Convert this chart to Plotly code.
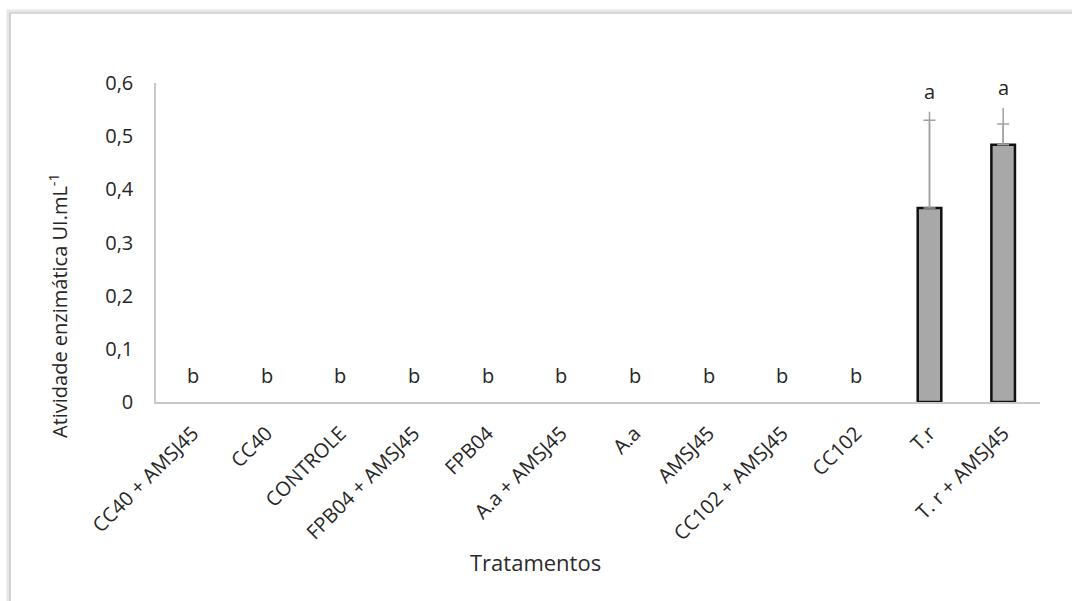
import plotly.graph_objects as go

# Treatments and mean enzyme activity (UI/mL)
tratamentos = ["CC40 + AMSJ45", "CC40", "CONTROLE", "FPB04 + AMSJ45", "FPB04",
               "A.a + AMSJ45", "A.a", "AMSJ45", "CC102 + AMSJ45", "CC102",
               "T.r", "T. r + AMSJ45"]
atividade = [0, 0, 0, 0, 0, 0, 0, 0, 0, 0, 0.365, 0.484]
# Error bars: capped upper error and full upper whisker
erro_cap = [0, 0, 0, 0, 0, 0, 0, 0, 0, 0, 0.530, 0.523]
erro_topo = [0, 0, 0, 0, 0, 0, 0, 0, 0, 0, 0.546, 0.553]
letras = ["b", "b", "b", "b", "b", "b", "b", "b", "b", "b", "a", "a"]

W, H = 1072, 601
ML, MR, MT, MB = 156, 32, 83, 199
PW, PH = W - ML - MR, H - MT - MB

def px_x(p):
    return (p - ML) / PW

def px_y(p):
    return (H - MB - p) / PH

FONT = "Open Sans"
TXT = "#2b2b2b"

# only bars with activity get error bars and outlines
tem = [v > 0 for v in atividade]
x_err = [c for c, ok in zip(tratamentos, tem) if ok]
y_err = [v for v, ok in zip(atividade, tem) if ok]
cap_err = [c - v for c, v, ok in zip(erro_cap, atividade, tem) if ok]
topo_err = [t - v for t, v, ok in zip(erro_topo, atividade, tem) if ok]

fig = go.Figure()

fig.add_trace(go.Bar(
    x=tratamentos, y=atividade,
    width=0.32,
    marker=dict(color=["#a8a8a8" if ok else "rgba(0,0,0,0)" for ok in tem],
                line=dict(color="#111111",
                          width=[2.5 if ok else 0 for ok in tem])),
    showlegend=False,
))

# whisker up to the full error, then the capped error on top
fig.add_trace(go.Scatter(
    x=x_err, y=y_err, mode="markers",
    marker=dict(size=1, color="rgba(0,0,0,0)"),
    error_y=dict(type="data", symmetric=False, array=topo_err,
                 arrayminus=[0] * len(y_err),
                 color="#a0a0a0", thickness=1.5, width=0),
    showlegend=False, hoverinfo="skip",
))
fig.add_trace(go.Scatter(
    x=x_err, y=y_err, mode="markers",
    marker=dict(size=1, color="rgba(0,0,0,0)"),
    error_y=dict(type="data", symmetric=False, array=cap_err,
                 arrayminus=[0] * len(y_err),
                 color="#a0a0a0", thickness=1.5, width=6),
    showlegend=False, hoverinfo="skip",
))

annotations = []
for cat, v, t, l in zip(tratamentos, atividade, erro_topo, letras):
    base = t if t > 0 else 0
    annotations.append(dict(
        x=cat, y=base, xref="x", yref="y", text=l, showarrow=False,
        yanchor="bottom", yshift=5 if t > 0 else 11,
        font=dict(family=FONT, size=20, color="#262626"),
    ))

annotations.append(dict(
    x=px_x(535), y=px_y(562), xref="paper", yref="paper",
    text="Tratamentos", showarrow=False, xanchor="center", yanchor="middle",
    font=dict(family=FONT, size=22, color=TXT),
))
annotations.append(dict(
    x=px_x(58), y=px_y(306), xref="paper", yref="paper",
    text="Atividade enzimática UI.mL<sup>-1</sup>", showarrow=False,
    textangle=-90, xanchor="center", yanchor="middle",
    font=dict(family=FONT, size=20, color="#262626"),
))

shapes = [
    # soft shadow of the outer frame
    dict(type="rect", xref="paper", yref="paper",
         x0=px_x(8), y0=px_y(700), x1=px_x(1200), y1=px_y(11),
         line=dict(color="#e6e6e6", width=3), layer="below"),
    dict(type="rect", xref="paper", yref="paper",
         x0=px_x(10), y0=px_y(700), x1=px_x(1200), y1=px_y(13),
         line=dict(color="#b8b8b8", width=1.2), layer="below"),
]

fig.update_layout(
    width=W, height=H,
    margin=dict(l=ML, r=MR, t=MT, b=MB),
    paper_bgcolor="white", plot_bgcolor="white",
    font=dict(family=FONT, color=TXT),
    annotations=annotations,
    shapes=shapes,
    xaxis=dict(
        type="category", categoryorder="array", categoryarray=tratamentos,
        showline=True, linecolor="#c8c8c8", linewidth=1.5,
        showgrid=False, zeroline=False,
        tickangle=-45, ticks="outside", ticklen=10, tickcolor="rgba(0,0,0,0)",
        tickfont=dict(family=FONT, size=20, color="#262626"),
        range=[-0.5, len(tratamentos) - 0.5],
    ),
    yaxis=dict(
        range=[0, 0.6], tickvals=[0, 0.1, 0.2, 0.3, 0.4, 0.5, 0.6],
        ticktext=["0", "0,1", "0,2", "0,3", "0,4", "0,5", "0,6"],
        showline=True, linecolor="#c8c8c8", linewidth=1.5,
        showgrid=False, zeroline=False,
        ticks="outside", ticklen=17, tickcolor="rgba(0,0,0,0)",
        tickfont=dict(family=FONT, size=20, color="#262626"),
    ),
)

fig.write_html("out.html")
